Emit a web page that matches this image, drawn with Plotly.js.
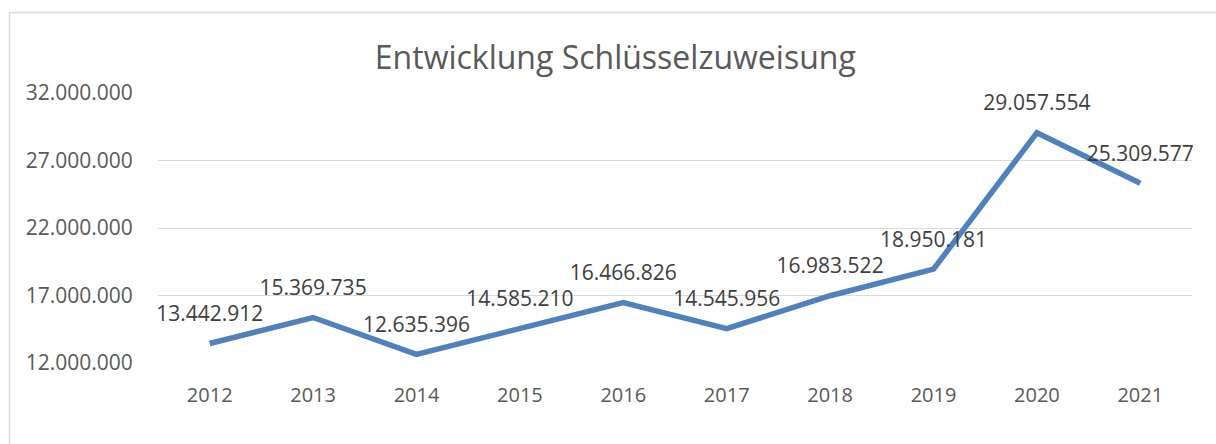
<!DOCTYPE html>
<html>
<head>
<meta charset="utf-8">
<script src="https://cdn.plot.ly/plotly-3.0.1.min.js"></script>
<style>
html,body{margin:0;padding:0;background:#fff;}
#chart{width:1216px;height:444px;}
</style>
</head>
<body>
<div id="chart"></div>
<script>
const years = ['2012','2013','2014','2015','2016','2017','2018','2019','2020','2021'];
const values = [13442912, 15369735, 12635396, 14585210, 16466826, 14545956, 16983522, 18950181, 29057554, 25309577];
const tickValues = [12000000, 17000000, 22000000, 27000000, 32000000];

function de(n){ return String(n).replace(/\B(?=(\d{3})+(?!\d))/g, '.'); }
const labels = values.map(de);
const tickText = tickValues.map(de);

const L = 158, R = 24, T = 93, B = 81, W = 1216, H = 444;
const pw = W - L - R, ph = H - T - B;

const trace = {
  x: years, y: values, type: 'scatter', mode: 'lines+markers+text',
  line: {color: '#4f81bd', width: 5.5},
  marker: {size: 26, color: 'rgba(0,0,0,0)', line: {width: 0}},
  text: labels, textposition: 'top center',
  textfont: {family: 'Open Sans, sans-serif', size: 21, color: '#404040'},
  cliponaxis: false, hoverinfo: 'none'
};

const layout = {
  width: W, height: H,
  margin: {l: L, r: R, t: T, b: B},
  paper_bgcolor: '#ffffff', plot_bgcolor: '#ffffff',
  showlegend: false,
  title: {text: 'Entwicklung Schlüsselzuweisung', x: 0.506, xref: 'container', xanchor: 'center',
          y: 1 - 58/H, yref: 'container', yanchor: 'middle',
          font: {family: 'Open Sans, sans-serif', size: 32, color: '#595959'}},
  xaxis: {type: 'category', range: [-0.5, 9.5], showgrid: false, zeroline: false, showline: false,
          ticks: 'outside', ticklen: 14, tickcolor: 'rgba(0,0,0,0)',
          tickfont: {family: 'Open Sans, sans-serif', size: 20, color: '#595959'}},
  yaxis: {range: [12000000, 32000000], tickvals: tickValues, ticktext: tickText,
          showgrid: true, gridcolor: '#d9d9d9', gridwidth: 1, zeroline: false, showline: false,
          ticks: 'outside', ticklen: 20, tickcolor: 'rgba(0,0,0,0)',
          tickfont: {family: 'Open Sans, sans-serif', size: 21, color: '#595959'}},
  shapes: [{type: 'rect', xref: 'paper', yref: 'paper',
            x0: (9.5 - L)/pw, x1: (W + 10 - L)/pw,
            y0: (T + ph - H - 10)/ph, y1: (T + ph - 12.5)/ph,
            line: {color: '#d9d9d9', width: 1.5}, fillcolor: 'rgba(0,0,0,0)', layer: 'below'}]
};

Plotly.newPlot('chart', [trace], layout, {staticPlot: true, displayModeBar: false});
</script>
</body>
</html>
